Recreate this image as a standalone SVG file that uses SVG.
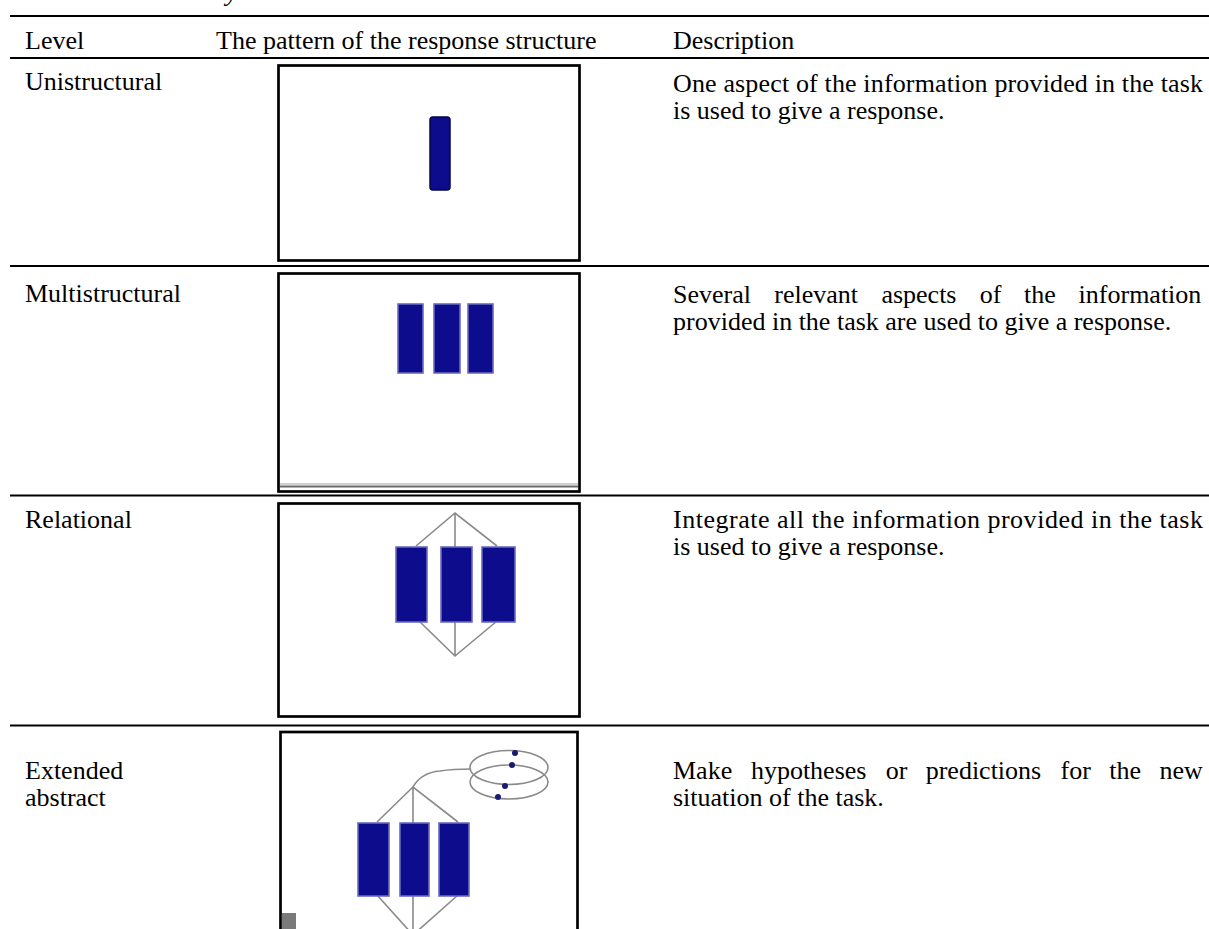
<svg xmlns="http://www.w3.org/2000/svg" width="1209" height="929" viewBox="0 0 1209 929">
<style>
text{font-family:"Liberation Serif","Times New Roman",serif;font-size:26px;fill:#000}
.rule{stroke:#000;stroke-width:2.2}
.frame{fill:#fff;stroke:#000;stroke-width:2.7}
.bar{fill:#0c0c8c;stroke:#6a6ac0;stroke-width:1.6}
.link{fill:none;stroke:#8a8a8a;stroke-width:1.6}
.dot{fill:#1a1a70}
</style>
<rect x="0" y="0" width="1209" height="929" fill="#fff"/>
<text x="226" y="1" style="font-style:italic">y</text>
<g id="rules">
<line class="rule" x1="10" y1="16" x2="1209" y2="16"/>
<line class="rule" x1="10" y1="58" x2="1209" y2="58"/>
<line class="rule" x1="10" y1="266" x2="1209" y2="266"/>
<line class="rule" x1="10" y1="495.5" x2="1209" y2="495.5"/>
<line class="rule" x1="10" y1="725.5" x2="1209" y2="725.5"/>
</g>
<g id="header">
<text x="25" y="49">Level</text>
<text x="216" y="49">The pattern of the response structure</text>
<text x="673" y="49">Description</text>
</g>
<g id="row-unistructural">
<text x="25" y="90">Unistructural</text>
<rect class="frame" x="278.5" y="65.5" width="301" height="195"/>
<rect x="430" y="117" width="20" height="73" rx="3" fill="#0c0c8c" stroke="#06064a" stroke-width="1.5"/>
<text x="673" y="92" textLength="530" lengthAdjust="spacing">One aspect of the information provided in the task</text>
<text x="673" y="119">is used to give a response.</text>
</g>
<g id="row-multistructural">
<text x="25" y="302">Multistructural</text>
<rect class="frame" x="278.5" y="273.5" width="301" height="218"/>
<line x1="280" y1="484" x2="578" y2="484" stroke="#c0c0c0" stroke-width="1.5"/>
<line x1="280" y1="486.5" x2="578" y2="486.5" stroke="#6a6a6a" stroke-width="2"/>
<rect class="bar" x="398" y="304" width="25" height="69"/>
<rect class="bar" x="434" y="304" width="26" height="69"/>
<rect class="bar" x="468" y="304" width="25" height="69"/>
<text y="303"><tspan x="673">Several</tspan><tspan x="774.3">relevant</tspan><tspan x="881.4">aspects</tspan><tspan x="979.8">of</tspan><tspan x="1024.1">the</tspan><tspan x="1078.6">information</tspan></text>
<text x="673" y="330">provided in the task are used to give a response.</text>
</g>
<g id="row-relational">
<text x="25" y="528">Relational</text>
<rect class="frame" x="278.5" y="503.5" width="301" height="213"/>
<path class="link" d="M416 546 L455 513 L497 546 M455 513 L455 548 M419 621 L455 656 L497 621 M455 622 L455 656"/>
<rect class="bar" x="396" y="547" width="31" height="75"/>
<rect class="bar" x="441" y="547" width="31" height="75"/>
<rect class="bar" x="482" y="547" width="33" height="75"/>
<text x="673" y="528" textLength="530" lengthAdjust="spacing">Integrate all the information provided in the task</text>
<text x="673" y="555">is used to give a response.</text>
</g>
<g id="row-extended-abstract">
<text x="25" y="779">Extended</text>
<text x="25" y="806">abstract</text>
<rect class="frame" x="280.5" y="732" width="297" height="210"/>
<path class="link" d="M377 822 L413 787 L458 822 M413 787 L413 823 M377 895 L413 935 L458 895 M413 896 L413 935"/>
<path class="link" d="M413 787 C418 778 428 772 440 771 C452 769 462 769 471 769"/>
<ellipse class="link" cx="509" cy="767.5" rx="39" ry="17"/>
<ellipse class="link" cx="509" cy="782" rx="39" ry="17"/>
<circle class="dot" cx="515" cy="753" r="3"/>
<circle class="dot" cx="512" cy="765" r="3"/>
<circle class="dot" cx="505" cy="786" r="3"/>
<circle class="dot" cx="498" cy="797" r="3"/>
<rect class="bar" x="358" y="823" width="31" height="73"/>
<rect class="bar" x="400" y="823" width="29" height="73"/>
<rect class="bar" x="439" y="823" width="30" height="73"/>
<rect x="282" y="913" width="14" height="16" fill="#7a7a7a"/>
<text y="779"><tspan x="673">Make</tspan><tspan x="750.9">hypotheses</tspan><tspan x="885.8">or</tspan><tspan x="925.7">predictions</tspan><tspan x="1060.6">for</tspan><tspan x="1109.3">the</tspan><tspan x="1159.4">new</tspan></text>
<text x="673" y="806">situation of the task.</text>
</g>
</svg>
